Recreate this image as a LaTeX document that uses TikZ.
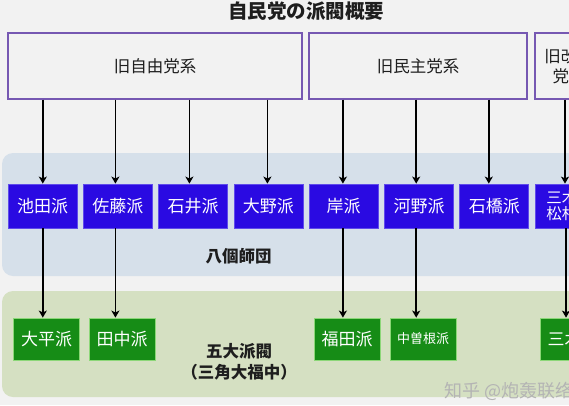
\documentclass[tikz,border=0pt]{standalone}
\usepackage{fontspec}
\newfontfamily\jpfont{Noto Sans CJK JP}
\newfontfamily\zhfont{Noto Sans CJK SC}
\usetikzlibrary{arrows.meta}
\definecolor{bg}{RGB}{242,242,242}
\definecolor{topline}{RGB}{118,88,178}
\definecolor{bandblue}{RGB}{214,224,234}
\definecolor{bandgreen}{RGB}{213,224,194}
\definecolor{boxblue}{RGB}{42,10,226}
\definecolor{boxblueline}{RGB}{95,75,235}
\definecolor{boxgreen}{RGB}{22,140,22}
\definecolor{boxgreenline}{RGB}{140,215,120}
\definecolor{txt}{RGB}{30,30,30}
\definecolor{wm}{RGB}{180,180,180}
\begin{document}
\begin{tikzpicture}[x=1pt,y=-1pt,
  topbox/.style={draw=topline, line width=1.4pt, fill=bg, minimum width=#1, minimum height=66pt,
    inner sep=0pt, text=txt, align=center, font=\jpfont\fontsize{16.5}{20}\selectfont},
  bluebox/.style={draw=boxblueline, line width=0.8pt, fill=boxblue, minimum width=69pt, minimum height=44pt,
    inner sep=0pt, text=white, align=center, font=\jpfont\fontsize{17}{17}\selectfont},
  greenbox/.style={draw=boxgreenline, line width=0.8pt, fill=boxgreen, minimum width=66pt, minimum height=42pt,
    inner sep=0pt, text=white, align=center, font=\jpfont\fontsize{17}{18}\selectfont},
  band/.style={rounded corners=11pt},
  lbl/.style={text=txt, align=center, font=\jpfont\bfseries\fontsize{16.5}{21}\selectfont},
  arr/.style={line width=1.6pt, -{Stealth[length=7pt,width=8pt,inset=1.8pt]}},
]
\useasboundingbox (0,0) rectangle (569,405);
\begin{scope}
\clip (0,0) rectangle (569,405);
\fill[bg] (0,0) rectangle (569,405);

% title
\node[lbl, font=\jpfont\bfseries\fontsize{19.5}{22}\selectfont] (title) at (306,11) {自民党の派閥概要};

% bands
\fill[bandblue, band] (2,153) rectangle (620,276);
\fill[bandgreen, band] (2,291) rectangle (620,397);
\node[lbl] (hachi) at (238.5,256) {八個師団};
\node[lbl] (godai) at (239,361.5) {五大派閥\\（三角大福中）};

% top boxes
\node[topbox=294pt] (t1) at (155,66) {旧自由党系};
\node[topbox=218pt] (t2) at (418,66) {旧民主党系};
\node[topbox=68pt, font=\jpfont\fontsize{16.5}{20.5}\selectfont] (t3) at (569,66) {旧改進\\党系};

% blue boxes
\node[bluebox] (b1) at (42.5,206) {池田派};
\node[bluebox] (b2) at (117.8,206) {佐藤派};
\node[bluebox] (b3) at (193.1,206) {石井派};
\node[bluebox] (b4) at (268.4,206) {大野派};
\node[bluebox] (b5) at (343.7,206) {岸派};
\node[bluebox] (b6) at (419,206) {河野派};
\node[bluebox] (b7) at (494.3,206) {石橋派};
\node[bluebox, font=\jpfont\fontsize{15.5}{16}\selectfont] (b8) at (569.6,206) {三木・\\松村派};

% green boxes
\node[greenbox] (g1) at (46.5,339) {大平派};
\node[greenbox] (g2) at (122,339) {田中派};
\node[greenbox] (g3) at (347,339) {福田派};
\node[greenbox, font=\jpfont\fontsize{13}{15}\selectfont] (g4) at (423,339) {中曽根派};
\node[greenbox] (g5) at (573,339) {三木派};

% arrows top -> blue
\draw[arr] ([xshift=0.3pt]b1.north |- t1.south) -- ([xshift=0.3pt]b1.north);
\draw[arr] ([xshift=-2.4pt]b2.north |- t1.south) -- ([xshift=-2.4pt]b2.north);
\draw[arr] ([xshift=-3.7pt]b3.north |- t1.south) -- ([xshift=-3.7pt]b3.north);
\draw[arr] ([xshift=-1pt]b4.north |- t1.south) -- ([xshift=-1pt]b4.north);
\draw[arr] ([xshift=-0.8pt]b5.north |- t2.south) -- ([xshift=-0.8pt]b5.north);
\draw[arr] ([xshift=-2.8pt]b6.north |- t2.south) -- ([xshift=-2.8pt]b6.north);
\draw[arr] ([xshift=-5.5pt]b7.north |- t2.south) -- ([xshift=-5.5pt]b7.north);
\draw[arr] ([xshift=-4.6pt]b8.north |- t3.south) -- ([xshift=-4.6pt]b8.north);

% arrows blue -> green
\draw[arr] ([xshift=0.3pt]b1.south) -- ([xshift=0.3pt]b1.south |- g1.north);
\draw[arr] ([xshift=-2.4pt]b2.south) -- ([xshift=-2.4pt]b2.south |- g2.north);
\draw[arr] ([xshift=-0.8pt]b5.south) -- ([xshift=-0.8pt]b5.south |- g3.north);
\draw[arr] ([xshift=-2.8pt]b6.south) -- ([xshift=-2.8pt]b6.south |- g4.north);
\draw[arr] ([xshift=-3.6pt]b8.south) -- ([xshift=-3.6pt]b8.south |- g5.north);

% watermark
\node[anchor=west, text=wm, inner sep=0pt, font=\zhfont\fontsize{18}{18}\selectfont] (wmark) at (444,391) {知乎 @炮轰联络};
\end{scope}
\end{tikzpicture}
\end{document}
